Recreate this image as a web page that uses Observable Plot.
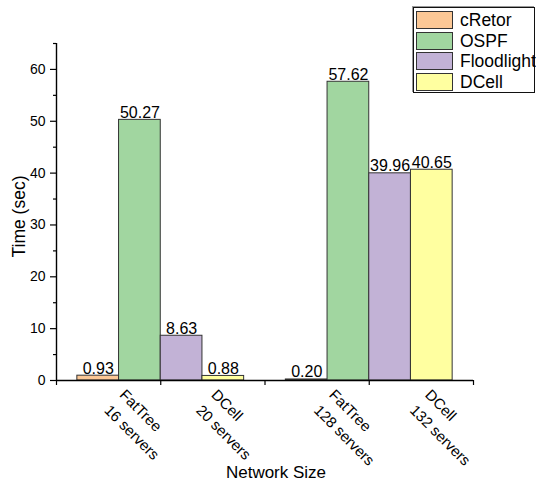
<!DOCTYPE html>
<html>
<head>
<meta charset="utf-8">
<script src="https://cdn.jsdelivr.net/npm/d3@7"></script>
<script src="https://cdn.jsdelivr.net/npm/@observablehq/plot@0.6"></script>
<style>
  body { margin: 0; background: #fff; }
  #chart { position: relative; width: 536px; height: 481px; font-family: "Liberation Sans", Arial, sans-serif; }
  #chart svg { display: block; }
  .legend { position: absolute; left: 413px; top: 7px; width: 122px; height: 86px; box-sizing: border-box;
            border: 1px solid #111; box-shadow: -1px -1px 0 0 #999; background: #fff; }
  .legend .row { position: absolute; left: 2px; height: 18px; }
  .legend .sw { position: absolute; left: 0; top: 0; width: 37px; height: 18px; box-sizing: border-box; border: 1px solid #333; }
  .legend .lab { position: absolute; left: 44px; top: 0; line-height: 18px; font-size: 17.5px; color: #000; white-space: nowrap; }
</style>
</head>
<body>
<div id="chart"></div>
<script>
// Controllers compared, and their bar colours
const series = ["cRetor", "OSPF", "Floodlight", "DCell"];
const colors = ["#FCC896", "#A1D6A0", "#C2B2D6", "#FFFFA0"];

// Convergence time (sec) per controller, small and large networks
const smallNet = [0.93, 50.27, 8.63, 0.88];
const largeNet = [0.20, 57.62, 39.96, 40.65];

// Network size labels under the x axis
const sizeLabels = ["FatTree\n16 servers", "DCell\n20 servers", "FatTree\n128 servers", "DCell\n132 servers"];
const yTicks = [0, 10, 20, 30, 40, 50, 60];

// Layout on the x axis (data units 0..4): two clusters of four bars
const groupStart = [0.2, 2.2];
const barWidth = 0.4;
const labelAt = [0.67, 1.55, 2.68, 3.6];

const bars = [smallNet, largeNet].flatMap((vals, g) =>
  vals.map((v, i) => ({
    series: series[i],
    value: v,
    x1: groupStart[g] + i * barWidth,
    x2: groupStart[g] + (i + 1) * barWidth
  }))
);

const font = '"Liberation Sans", Arial, sans-serif';

const chart = Plot.plot({
  width: 536,
  height: 481,
  marginLeft: 56,
  marginRight: 63,
  marginTop: 43,
  marginBottom: 101,
  style: { fontFamily: font, fontSize: "14px", color: "#000", background: "#fff", overflow: "visible" },
  x: { domain: [0, 4], axis: null },
  y: { domain: [0, 65], axis: null },
  color: { domain: series, range: colors },
  marks: [
    Plot.rect(bars, { x1: "x1", x2: "x2", y1: () => 0, y2: "value", fill: "series", stroke: "#333", strokeWidth: 1 }),
    Plot.text(bars, {
      x: d => (d.x1 + d.x2) / 2, y: "value", text: d => d.value.toFixed(2),
      lineAnchor: "bottom", dy: -2, fontSize: 16, fill: "#000"
    }),
    Plot.axisY({ ticks: yTicks, tickSize: 6, tickPadding: 5, fontSize: 14, label: null, stroke: "#000", strokeWidth: 1.2 }),
    Plot.axisY({ ticks: d3.range(5, 66, 10), tickSize: 3, tickFormat: () => "", label: null, stroke: "#000", strokeWidth: 1.2 }),
    Plot.axisX({ ticks: [0, 1, 2, 3, 4], tickSize: 5, tickFormat: () => "", label: null, stroke: "#000", strokeWidth: 1.2 }),
    Plot.ruleY([0], { stroke: "#000", strokeWidth: 1.4 }),
    Plot.ruleX([0], { stroke: "#000", strokeWidth: 1.4 }),
    // Rotated two-line network size labels
    Plot.text(sizeLabels, {
      x: (d, i) => labelAt[i], y: () => 0, text: d => d,
      rotate: 45, textAnchor: "start", lineAnchor: "top", lineHeight: 1.45,
      dx: 3.4, dy: 4.4, fontSize: 15, fill: "#000"
    }),
    Plot.text(["Time (sec)"], {
      frameAnchor: "left", rotate: -90, lineAnchor: "bottom", textAnchor: "middle",
      dx: -32, dy: 4.5, fontSize: 17.5, fill: "#000"
    }),
    Plot.text(["Network Size"], {
      frameAnchor: "bottom", lineAnchor: "bottom", textAnchor: "middle",
      dx: 11, dy: 97, fontSize: 17, fill: "#000"
    })
  ]
});

const root = document.getElementById("chart");
root.appendChild(chart);

// Framed legend in the upper right corner
const legend = d3.select(root).append("div").attr("class", "legend");
series.forEach((s, i) => {
  const row = legend.append("div").attr("class", "row").style("top", (2.7 + i * 20.8) + "px");
  row.append("div").attr("class", "sw").style("background", colors[i]);
  row.append("div").attr("class", "lab").text(s);
});
</script>
</body>
</html>
